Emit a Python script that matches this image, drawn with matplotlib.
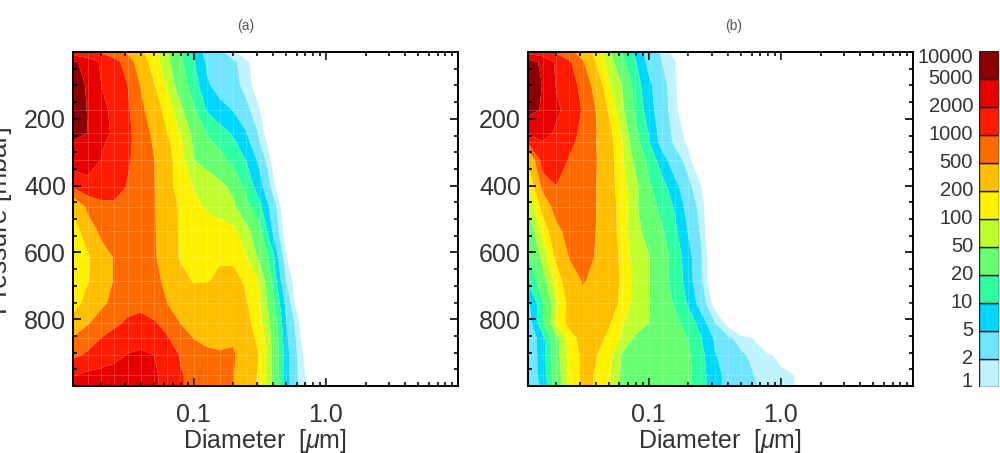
import numpy as np
import matplotlib
matplotlib.use('Agg')
import matplotlib.pyplot as plt
from matplotlib.ticker import FixedLocator, FixedFormatter, MultipleLocator, NullFormatter

plt.rcParams['font.family'] = ['Liberation Sans', 'DejaVu Sans']
plt.rcParams['mathtext.fontset'] = 'custom'
plt.rcParams['mathtext.rm'] = 'Liberation Sans'
plt.rcParams['mathtext.it'] = 'Liberation Sans:italic'

diameter = [0.012, 0.0158, 0.02, 0.0251, 0.0316, 0.0398, 0.0501, 0.0631, 0.0794, 0.1, 0.126,
            0.158, 0.2, 0.251, 0.316, 0.398, 0.501, 0.631, 0.794, 1.0, 1.26, 1.58]
pressure = [0, 30, 99, 174, 243, 269, 323, 404, 464, 536, 614, 686, 752, 811, 856, 907, 967, 1000]

# concentration, one row per pressure, zero-ish right of the last value
conc_a = [
    [1200, 1100, 900, 700, 450, 230, 130, 55, 22, 10, 3.5, 2.5, 1.2, .3],
    [6500, 3000, 1800, 1250, 750, 300, 140, 60, 23, 10.5, 4.5, 3.2, 2.3, 1.3, .3],
    [8000, 4500, 2000, 1400, 1000, 480, 210, 90, 30, 14, 5.5, 3.6, 2.6, 1.5, .5],
    [8500, 4800, 2500, 1600, 1100, 600, 310, 145, 60, 22, 9.5, 6.5, 4.8, 2.5, 1.05],
    [9000, 5000, 2700, 1700, 1150, 720, 420, 200, 95, 40, 19, 13, 9, 5.2, 1.7, .3],
    [4700, 3400, 2200, 1600, 1150, 720, 460, 230, 115, 44, 24, 16, 11, 6.5, 2, .5],
    [3000, 3000, 1950, 1450, 1100, 700, 510, 260, 130, 50, 38, 26, 15, 9.5, 4, .7],
    [1000, 1500, 1550, 1400, 950, 660, 520, 280, 130, 98, 78, 62, 40, 15, 7, 1.5],
    [220, 600, 800, 850, 800, 650, 530, 290, 180, 115, 92, 78, 58, 25, 12, 3.2, .4],
    [130, 320, 620, 800, 820, 720, 540, 300, 180, 150, 140, 130, 115, 65, 25, 4.5, .6],
    [105, 180, 340, 530, 700, 720, 560, 300, 185, 170, 175, 190, 180, 105, 40, 12, 1.1],
    [100, 190, 330, 530, 720, 780, 600, 420, 260, 190, 195, 220, 240, 180, 90, 17, 2, .4],
    [140, 270, 430, 620, 800, 820, 650, 500, 370, 320, 310, 300, 270, 210, 105, 24, 4, .4],
    [260, 470, 700, 880, 1100, 1250, 1080, 800, 490, 400, 370, 340, 310, 250, 125, 35, 5.2, 1.0],
    [500, 750, 1000, 1250, 1500, 1650, 1450, 1050, 700, 490, 440, 430, 460, 280, 160, 40, 6, 1.2],
    [850, 1100, 1300, 1600, 2050, 2200, 2000, 1400, 950, 650, 560, 530, 540, 320, 190, 42, 7, 1.5, .3],
    [1900, 2300, 2500, 2700, 2800, 2700, 2200, 1600, 1050, 850, 720, 620, 510, 320, 170, 42, 7, 1.6, .5],
    [2300, 2500, 2600, 2700, 2800, 2700, 2200, 1600, 1050, 850, 720, 620, 510, 320, 170, 42, 7, 1.7, .6],
]

conc_b = [
    [1500, 1200, 900, 600, 350, 150, 60, 18, 8, 3.2, 1.8, .6],
    [8000, 4000, 1700, 1100, 550, 195, 75, 23, 10.5, 4, 2, 1.1, .2],
    [9500, 4800, 1900, 1300, 830, 370, 105, 48, 14, 6, 2.7, 1.2, .25],
    [7000, 4500, 2300, 1500, 950, 495, 180, 58, 17, 7, 2.9, 1.3, .3],
    [2050, 2700, 1750, 1250, 860, 530, 250, 90, 24, 9.8, 3.3, 1.6, .7],
    [1000, 1950, 1650, 1180, 800, 510, 260, 105, 26, 10.2, 3.5, 1.7, .8],
    [200, 1500, 1450, 950, 680, 530, 280, 110, 40, 16, 7, 2.9, 1.4, .2],
    [90, 640, 980, 780, 600, 510, 280, 125, 62, 22, 13, 6.5, 2.5, 1, .2],
    [52, 270, 760, 720, 620, 510, 290, 145, 56, 31, 15, 9.3, 3.5, 1.4, .2],
    [25, 130, 380, 740, 660, 500, 320, 135, 65, 35, 22, 11.5, 4.6, 1.7, .2],
    [16, 65, 240, 520, 720, 470, 290, 170, 70, 52, 27, 15, 6.5, 2.2, .3],
    [10, 36, 135, 340, 520, 440, 300, 175, 75, 52, 25, 15.5, 7, 2.3, .3],
    [4, 18, 90, 260, 420, 400, 300, 160, 75, 52, 35, 17.5, 9, 3.2, .7],
    [3, 19, 110, 260, 380, 380, 220, 105, 72, 50, 40, 25, 14, 7.5, 2.1, .7],
    [2.6, 8, 40, 150, 260, 260, 170, 90, 45, 40, 36, 28, 19, 10, 4.5, 2.3, 1.5, .9],
    [2.6, 7.5, 38, 120, 240, 210, 130, 45, 38, 36, 33, 28, 22, 12, 5.2, 3.7, 2.2, 1.7, 1.2, .7],
    [2.7, 7, 33, 115, 240, 190, 110, 42, 36, 34, 32, 27, 23, 13, 6, 4.2, 3, 2, 1.6, 1.3, 1, .2],
    [2.6, 6, 32, 120, 240, 190, 110, 42, 36, 34, 32, 27, 23, 13, 6, 4.2, 3.1, 2.1, 1.7, 1.4, 1.05, .2],
]

levels = [1, 2, 5, 10, 20, 50, 100, 200, 500, 1000, 2000, 5000, 10000]
colors = ['#bff3ff', '#70e5ff', '#00d8ff', '#30ffa0', '#66ff70', '#bfff30',
          '#fff200', '#ffbe00', '#ff6a00', '#ff1a00', '#e60000', '#8b0000']
titles = ['(a)', '(b)']
ink = '#333333'
W, H = 1000, 453


def fill_rows(rows):
    out = np.full((len(rows), len(diameter)), 0.1)
    for i, r in enumerate(rows):
        out[i, :len(r)] = r
    return out


def draw_panel(left, rows, title, title_x):
    ax = fig.add_axes([left / W, 1 - 386 / H, 385 / W, 334 / H])
    ax.contourf(diameter, pressure, np.log10(fill_rows(rows)), levels=np.log10(levels),
                colors=colors, antialiased=True)
    # the faint white mesh of the data grid shows through the original fill
    ax.vlines(diameter[1:], 0, 1000, color='white', lw=0.7, alpha=0.18)
    ax.hlines(pressure[3:], diameter[0], 10, color='white', lw=0.7, alpha=0.18)
    ax.set_xscale('log')
    ax.set_xlim(0.01222, 10)
    ax.set_ylim(1000, 0)
    ax.xaxis.set_major_locator(FixedLocator([0.1, 1, 10]))
    ax.xaxis.set_major_formatter(FixedFormatter(['0.1', '1.0', '']))
    ax.xaxis.set_minor_locator(FixedLocator([m * 10.0 ** e for e in (-2, -1, 0) for m in range(2, 10)]))
    ax.xaxis.set_minor_formatter(NullFormatter())
    ax.yaxis.set_major_locator(FixedLocator([200, 400, 600, 800]))
    ax.yaxis.set_minor_locator(MultipleLocator(50))
    ax.tick_params(which='both', direction='in', top=True, right=True, width=1.2, color='black',
                   labelsize=18, labelcolor=ink)
    ax.tick_params(which='major', length=6, pad=5)
    ax.tick_params(which='minor', length=3)
    ax.tick_params(axis='x', which='major', pad=12)
    for s in ax.spines.values():
        s.set_linewidth(1.4)
    fig.text(title_x / W, 1 - 26 / H, title, ha='center', va='center', fontsize=10, color='#555555')
    fig.text((left + 192) / W, 1 - 441 / H, r'Diameter  [$\mu$m]', ha='center', va='center',
             fontsize=18, color=ink)
    return ax


fig = plt.figure(figsize=(W / 100, H / 100), dpi=100)
draw_panel(73, conc_a, titles[0], 246)
draw_panel(528, conc_b, titles[1], 734)
fig.text(0 / W, 1 - 220 / H, 'Pressure [mbar]', rotation=90, ha='center', va='center', fontsize=19, color=ink)

# colour bar, built as stacked cells
cax = fig.add_axes([979 / W, 1 - 387 / H, 20 / W, 336 / H])
cax.bar([0] * 12, [1] * 12, bottom=range(12), width=1, color=colors, edgecolor='#222222', linewidth=1.0)
cax.set_xlim(-0.5, 0.5)
cax.set_ylim(0, 12)
cax.set_axis_off()
for i, lev in enumerate(levels):
    pos = {0: 0.18, 12: 11.78}.get(i, i)
    cax.text(-0.8, pos, str(lev), ha='right', va='center', fontsize=14.5, color=ink)

fig.savefig('out.png', dpi=100)
